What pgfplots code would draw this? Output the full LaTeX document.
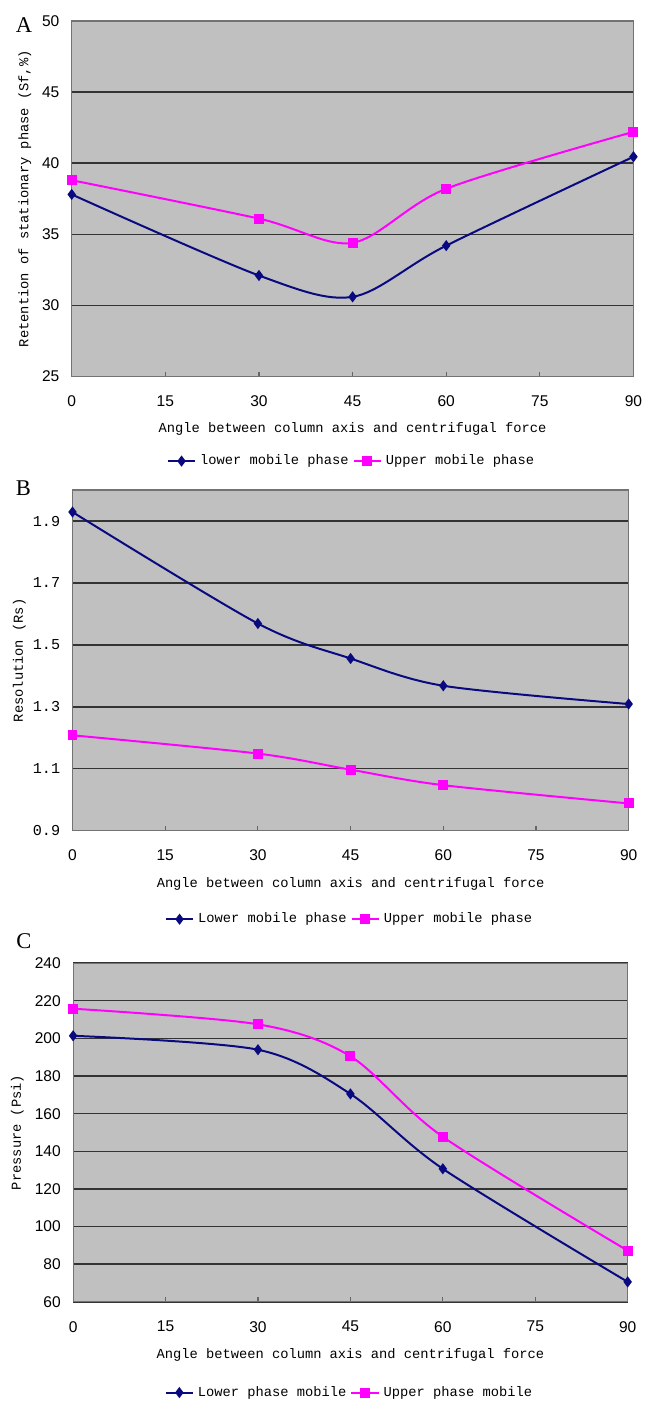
\documentclass[border=0pt]{standalone}
\usepackage{fontspec}
\usepackage{pgfplots}
\pgfplotsset{compat=1.18}
\newfontfamily\monof{Liberation Mono}
\newfontfamily\sansf{Liberation Sans}
\newfontfamily\seriff{Liberation Serif}
\definecolor{navy}{RGB}{10,10,128}
\definecolor{magen}{RGB}{255,0,255}
\definecolor{plotbg}{RGB}{192,192,192}
\newcommand\labfont{\monof\fontsize{6.9}{8}\selectfont}

\pgfplotsset{
  panel/.style={
    scale only axis,
    xmin=0, xmax=90, xtick={0,15,...,90},
    axis background/.style={fill=plotbg},
    axis line style={draw=black!55, line width=0.6pt},
    ymajorgrids, grid style={black!80, line width=0.7pt},
    xtick pos=left, tick align=inside,
    major tick length=2.5pt,
    xtick style={draw=black!60, line width=0.6pt},
    ytick style={draw=none},
    /pgf/number format/assume math mode=true,
    tick label style={font=\sansf\fontsize{7.8}{9}\selectfont},
    x tick label style={anchor=center, yshift=-12.5pt},
    y tick label style={anchor=east, inner sep=0pt, xshift=-6pt},
    xlabel={Angle between column axis and centrifugal force},
    every axis x label/.style={at={([yshift=-26.5pt]axis description cs:0.5,0)}, anchor=center, font=\labfont},
    legend style={draw=none, fill=none, legend columns=-1, anchor=center,
      font=\labfont},
    legend image code/.code={\draw[mark repeat=2,mark phase=2,##1] plot coordinates {(0cm,0cm) (0.24cm,0cm) (0.48cm,0cm)};},
  },
  ylab/.style={every axis y label/.style={at={([xshift=-#1]axis description cs:0,0.5)}, rotate=90, anchor=center, font=\labfont}},
  lower/.style={navy, line width=1pt, smooth, mark=diamond*, mark size=2pt, mark options={solid}},
  upper/.style={magen, line width=1pt, smooth, mark=square*, mark size=2pt, mark options={solid}},
}

\begin{document}
\begin{tikzpicture}
\path (0,0) rectangle (323pt,-703.5pt);

% A: retention
\begin{axis}[panel, at={(36pt,-10.5pt)}, anchor=north west,
    width=282pt, height=178.5pt,
    ymin=25, ymax=50, ytick={25,30,...,50},
    ylabel={Retention of stationary phase (Sf,\%)}, ylab=23.5pt,
    legend style={at={(0.5,-0.238)}}]
  \addplot[lower] coordinates {(0,37.8) (30,32.1) (45,30.6) (60,34.2) (90,40.45)};
  \addplot[upper] coordinates {(0,38.8) (30,36.1) (45,34.4) (60,38.2) (90,42.2)};
  \legend{lower mobile phase, Upper mobile phase}
\end{axis}
\node[font=\seriff\fontsize{11.3}{12}\selectfont] at (12pt,-12.75pt) {A};

% B: resolution
\begin{axis}[panel, at={(36.4pt,-246pt)}, anchor=north west,
    width=279.2pt, height=171pt,
    ymin=0.9, ymax=2.0, ytick={0.9,1.1,1.3,1.5,1.7,1.9},
    yticklabels={0.9,1.1,1.3,1.5,1.7,1.9},
    y tick label style={font=\monof\fontsize{7.6}{9}\selectfont},
    ylabel={Resolution (Rs)}, ylab=26.7pt,
    legend style={at={(0.5,-0.26)}}]
  \addplot[lower] coordinates {(0,1.929) (30,1.569) (45,1.456) (60,1.368) (90,1.309)};
  \addplot[upper] coordinates {(0,1.208) (30,1.149) (45,1.097) (60,1.047) (90,0.988)};
  \legend{Lower mobile phase, Upper mobile phase}
\end{axis}
\node[font=\seriff\fontsize{11.3}{12}\selectfont] at (11.75pt,-245pt) {B};

% C: pressure
\begin{axis}[panel, at={(36.7pt,-483.5pt)}, anchor=north west,
    width=278.4pt, height=170pt,
    ymin=60, ymax=240, ytick={60,80,...,240},
    ylabel={Pressure (Psi)}, ylab=28pt,
    legend style={at={(0.5,-0.268)}}]
  \addplot[lower] coordinates {(0,201.4) (30,194) (45,170.5) (60,130.7) (90,70.6)};
  \addplot[upper] coordinates {(0,215.8) (30,207.5) (45,190.5) (60,147.7) (90,87.2)};
  \legend{Lower phase mobile, Upper phase mobile}
\end{axis}
\node[font=\seriff\fontsize{11.3}{12}\selectfont] at (12pt,-472.5pt) {C};
\end{tikzpicture}
\end{document}
